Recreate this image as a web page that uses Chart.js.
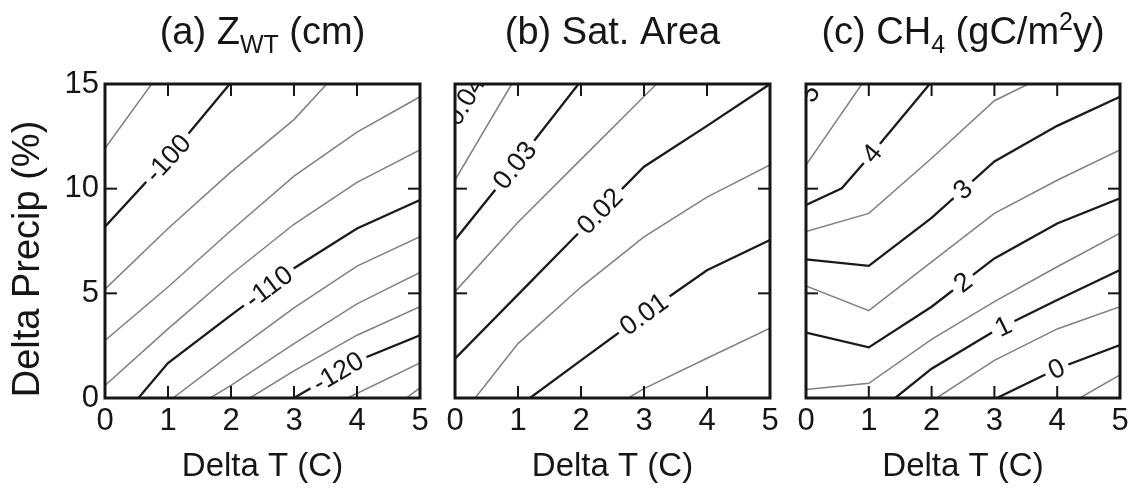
<!DOCTYPE html>
<html>
<head>
<meta charset="utf-8">
<script src="https://cdn.jsdelivr.net/npm/chart.js@4.4.1/dist/chart.umd.min.js"></script>
<style>
  body { margin: 0; background: #fff; }
  #wrap { position: relative; width: 1144px; height: 488px; }
  canvas { position: absolute; top: 0; }
</style>
</head>
<body>
<div id="wrap">
  <canvas id="panel-a" style="left:0px" width="440" height="488"></canvas>
  <canvas id="panel-b" style="left:440px" width="350" height="488"></canvas>
  <canvas id="panel-c" style="left:790px" width="354" height="488"></canvas>
</div>
<script>
// axis ticks
const deltaT = [0, 1, 2, 3, 4, 5];
const deltaP = [0, 5, 10, 15];

// (a) water table depth, contour every 2.5 cm
const zwtLevels = [-97.5, -100, -102.5, -105, -107.5, -110, -112.5, -115, -117.5, -120, -122.5, -125];
const zwtMajor = [-100, -110, -120];
const zwtX = [
  [0, 0.74],
  [0, 1, 1.98],
  [0, 1, 2, 3, 3.52],
  [0, 1, 2, 3, 4, 5],
  [0, 1, 2, 3, 4, 5],
  [0.53, 1, 2, 3, 4, 5],
  [1.08, 2, 3, 4, 5],
  [1.67, 2, 3, 4, 5],
  [2.30, 3, 4, 5],
  [3.0, 4, 5],
  [3.85, 5],
  [4.78, 5]
];
const zwtY = [
  [11.93, 15],
  [8.18, 11.45, 15],
  [5.2, 8.1, 10.8, 13.3, 15],
  [2.75, 5.3, 8.0, 10.6, 12.7, 14.39],
  [0.6, 3.3, 5.9, 8.3, 10.3, 11.85],
  [0, 1.67, 3.96, 6.2, 8.1, 9.46],
  [0, 2.1, 4.3, 6.3, 7.71],
  [0, 0.6, 2.6, 4.5, 6.0],
  [0, 1.3, 3.0, 4.36],
  [0, 1.77, 3.0],
  [0, 1.67],
  [0, 0.48]
];

// (b) saturated area fraction, contour every 0.005
const satLevels = [0.04, 0.035, 0.03, 0.025, 0.02, 0.015, 0.01, 0.005];
const satMajor = [0.04, 0.03, 0.02, 0.01];
const satX = [
  [0, 0.32],
  [0, 0.9],
  [0, 1, 1.96],
  [0, 1, 2, 3, 3.2],
  [0, 1, 2, 3, 4, 5],
  [0.32, 1, 2, 3, 4, 5],
  [1.19, 2, 3, 4, 5],
  [2.75, 3, 4, 5]
];
const satY = [
  [13.4, 15],
  [10.41, 15],
  [7.55, 11.3, 15],
  [5.08, 8.4, 11.4, 14.4, 15],
  [1.88, 4.94, 8.0, 11.05, 13.0, 15.0],
  [0, 2.6, 5.3, 7.7, 9.6, 11.13],
  [0, 1.8, 4.0, 6.1, 7.55],
  [0, 0.45, 1.9, 3.33]
];

// (c) methane flux, contour every 0.5 gC/m2y
const ch4Levels = [5, 4.5, 4, 3.5, 3, 2.5, 2, 1.5, 1, 0.5, 0, -0.5];
const ch4Major = [5, 4, 3, 2, 1, 0];
const ch4X = [
  [0, 0.16],
  [0, 0.89],
  [0, 0.57, 1, 1.97],
  [0, 1, 2, 3, 3.54],
  [0, 1, 2, 3, 4, 5],
  [0, 1, 2, 3, 4, 5],
  [0, 1, 2, 3, 4, 5],
  [0, 1, 2, 3, 4, 5],
  [1.42, 2, 3, 4, 5],
  [2.08, 3, 4, 5],
  [3.04, 4, 5],
  [4.36, 5]
];
const ch4Y = [
  [14.3, 15],
  [11.13, 15],
  [9.22, 10.02, 11.5, 15],
  [7.95, 8.82, 11.45, 14.2, 15],
  [6.62, 6.31, 8.6, 11.3, 13.0, 14.39],
  [5.35, 4.17, 6.5, 8.82, 10.4, 11.85],
  [3.12, 2.42, 4.36, 6.67, 8.34, 9.54],
  [0.41, 0.7, 2.8, 4.6, 6.27, 7.87],
  [0, 1.4, 3.2, 4.68, 6.11],
  [0, 1.8, 3.3, 4.36],
  [0, 1.4, 2.53],
  [0, 1.1]
];

const ink = '#161616';
const family = '"Liberation Sans", Arial, Helvetica, sans-serif';

// contour labels: text along the line, with a gap cut out under it
// then inward ticks on all four sides and the frame
const contourFrame = {
  id: 'contourFrame',
  afterDatasetsDraw(chart) {
    const {ctx, chartArea: a, scales: {x, y}} = chart;
    ctx.save();
    ctx.beginPath();
    ctx.rect(a.left, a.top, a.width, a.height);
    ctx.clip();
    ctx.font = '27px ' + family;
    chart.data.datasets.forEach(ds => {
      if (ds.tag == null) return;
      const pts = ds.data;
      let i = pts.findIndex((p, k) => k > 0 && p.x >= ds.labelAt);
      if (i < 1) i = pts.length - 1;
      const p0 = pts[i - 1], p1 = pts[i];
      const t = (ds.labelAt - p0.x) / (p1.x - p0.x);
      const px = x.getPixelForValue(ds.labelAt);
      const py = y.getPixelForValue(p0.y + t * (p1.y - p0.y));
      const ang = Math.atan2(
        y.getPixelForValue(p1.y) - y.getPixelForValue(p0.y),
        x.getPixelForValue(p1.x) - x.getPixelForValue(p0.x));
      const w = ctx.measureText(ds.tag).width;
      ctx.save();
      ctx.translate(px, py);
      ctx.rotate(ang);
      ctx.fillStyle = '#fff';
      ctx.fillRect(-w / 2 - 5, -11, w + 10, 22);
      ctx.fillStyle = ink;
      ctx.textAlign = 'center';
      ctx.textBaseline = 'middle';
      ctx.fillText(ds.tag, 0, 1);
      ctx.restore();
    });
    ctx.restore();

    ctx.save();
    ctx.strokeStyle = ink;
    ctx.lineWidth = 2;
    const seg = (x0, y0, x1, y1) => { ctx.beginPath(); ctx.moveTo(x0, y0); ctx.lineTo(x1, y1); ctx.stroke(); };
    x.ticks.forEach(tk => {
      const p = x.getPixelForValue(tk.value);
      seg(p, a.top, p, a.top + 12);
      seg(p, a.bottom, p, a.bottom - 12);
    });
    y.ticks.forEach(tk => {
      const p = y.getPixelForValue(tk.value);
      seg(a.left, p, a.left + 12, p);
      seg(a.right, p, a.right - 12, p);
    });
    ctx.lineWidth = 3;
    ctx.strokeRect(a.left, a.top, a.width, a.height);
    ctx.restore();
  }
};

// panel title with sub/superscripts, and the shared y label
const panelText = {
  id: 'panelText',
  afterDraw(chart, args, opts) {
    const {ctx, chartArea: a} = chart;
    const size = 38;
    const fontOf = m => (m ? Math.round(size * 0.66) : size) + 'px ' + family;
    ctx.save();
    ctx.fillStyle = ink;
    ctx.textBaseline = 'alphabetic';
    let total = 0;
    opts.title.forEach(([t, m]) => { ctx.font = fontOf(m); total += ctx.measureText(t).width; });
    let cx = (a.left + a.right) / 2 - total / 2;
    opts.title.forEach(([t, m]) => {
      ctx.font = fontOf(m);
      const dy = m === 'sub' ? 9 : m === 'sup' ? -14 : 0;
      ctx.fillText(t, cx, 44 + dy);
      cx += ctx.measureText(t).width;
    });
    if (opts.yLabel) {
      ctx.translate(29, 259);
      ctx.rotate(-Math.PI / 2);
      ctx.font = '38px ' + family;
      ctx.textAlign = 'center';
      ctx.textBaseline = 'middle';
      ctx.fillText(opts.yLabel, 0, 0);
    }
    ctx.restore();
  }
};

function contourSets(levels, major, xs, ys, labels) {
  return levels.map((lv, i) => {
    const isMajor = major.includes(lv);
    const spot = labels.find(l => l[0] === lv);
    return {
      label: String(lv),
      data: xs[i].map((v, k) => ({x: v, y: ys[i][k]})),
      showLine: true,
      pointRadius: 0,
      borderColor: isMajor ? '#1a1a1a' : '#808080',
      borderWidth: isMajor ? 2.3 : 1.5,
      tag: spot ? spot[1] : null,
      labelAt: spot ? spot[2] : null
    };
  });
}

function makePanel(id, sets, opts) {
  return new Chart(document.getElementById(id), {
    type: 'scatter',
    data: {datasets: sets},
    plugins: [contourFrame, panelText],
    options: {
      responsive: false,
      animation: false,
      layout: {padding: {top: 84, right: opts.right, bottom: 0, left: 0}},
      plugins: {
        legend: {display: false},
        tooltip: {enabled: false},
        panelText: {title: opts.title, yLabel: opts.yLabel}
      },
      scales: {
        x: {
          type: 'linear', min: 0, max: 5,
          afterBuildTicks: s => { s.ticks = deltaT.map(v => ({value: v})); },
          ticks: {padding: 5, color: ink, font: {family: family, size: 31}},
          grid: {display: false, drawTicks: false},
          border: {display: false},
          title: {display: true, text: 'Delta T (C)', color: ink,
                  font: {family: family, size: 33}, padding: {top: 0, bottom: 1}},
          afterFit: s => { s.height = 90; }
        },
        y: {
          type: 'linear', min: 0, max: 15,
          afterBuildTicks: s => { s.ticks = deltaP.map(v => ({value: v})); },
          ticks: {display: opts.showY, padding: 6, color: ink, font: {family: family, size: 31}},
          grid: {display: false, drawTicks: false},
          border: {display: false},
          afterFit: s => { s.width = opts.left; }
        }
      }
    }
  });
}

makePanel('panel-a',
  contourSets(zwtLevels, zwtMajor, zwtX, zwtY, [[-100, '-100', 1.0], [-110, '-110', 2.6], [-120, '-120', 3.7]]),
  {left: 105, right: 20, showY: true, yLabel: 'Delta Precip (%)',
   title: [['(a) Z', ''], ['WT', 'sub'], [' (cm)', '']]});

makePanel('panel-b',
  contourSets(satLevels, satMajor, satX, satY, [[0.04, '0.04', 0.16], [0.03, '0.03', 0.95], [0.02, '0.02', 2.3], [0.01, '0.01', 3.0]]),
  {left: 15, right: 20, showY: false, yLabel: null,
   title: [['(b) Sat. Area', '']]});

makePanel('panel-c',
  contourSets(ch4Levels, ch4Major, ch4X, ch4Y, [[5, '5', 0.06], [4, '4', 1.05], [3, '3', 2.5], [2, '2', 2.5], [1, '1', 3.14], [0, '0', 3.99]]),
  {left: 16, right: 24, showY: false, yLabel: null,
   title: [['(c) CH', ''], ['4', 'sub'], [' (gC/m', ''], ['2', 'sup'], ['y)', '']]});
</script>
</body>
</html>
